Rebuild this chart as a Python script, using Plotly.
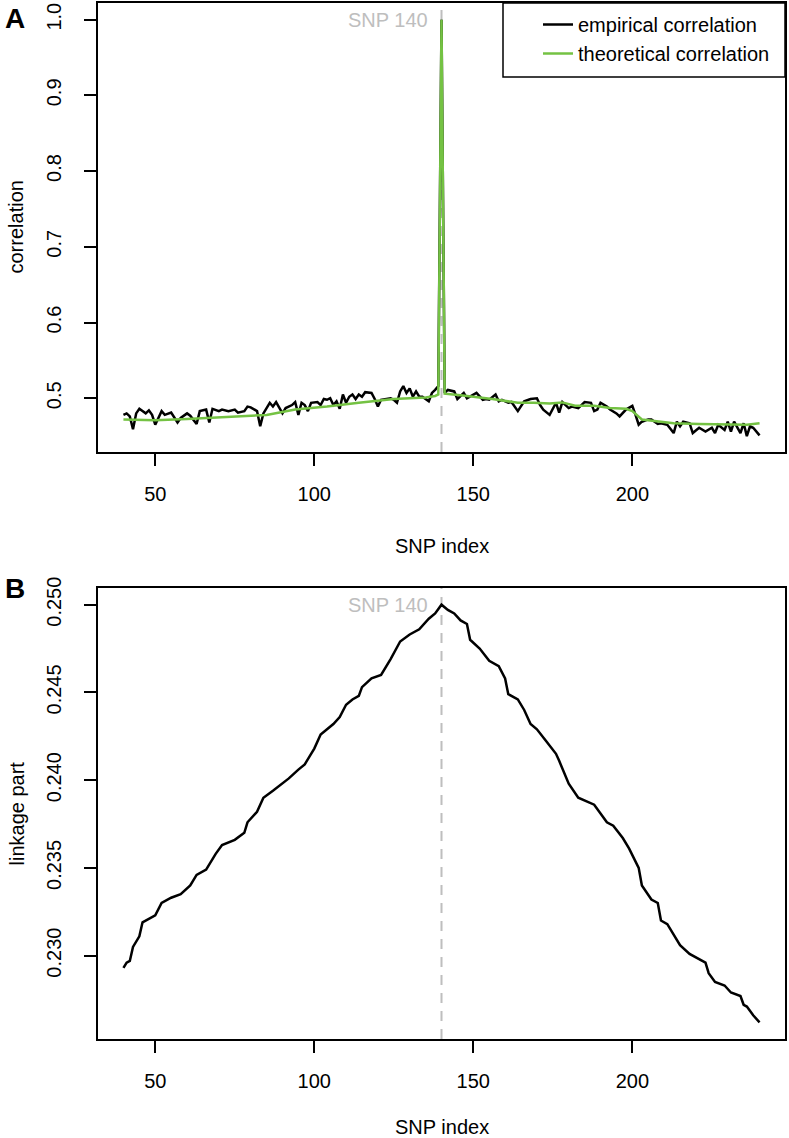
import plotly.graph_objects as go

# ---------------- Panel A data ----------------
emp_idx = [40, 41, 42, 43, 44, 45, 47, 48, 49, 50, 52, 53, 55, 57, 58, 60, 61, 63, 64, 66,
           67, 68, 70, 71, 73, 75, 76, 78, 79, 80, 82, 83, 84, 86, 87, 88, 90, 91, 93, 94,
           95, 96, 97, 98, 99, 101, 102, 103, 104, 105, 106, 107, 108, 109, 110, 111, 112, 113, 114, 115,
           116, 118, 119, 120, 121, 123, 124, 125, 126, 127, 128, 129, 130, 131, 132, 133, 134, 136, 137, 138,
           139, 140, 141, 142, 144, 145, 147, 148, 150, 151, 153, 154, 155, 157, 158, 159, 161, 162, 164, 166,
           168, 170, 171, 172, 174, 176, 177, 178, 180, 181, 183, 185, 187, 188, 189, 190, 192, 193, 195, 196,
           198, 199, 200, 201, 202, 203, 205, 206, 208, 209, 211, 213, 214, 215, 216, 218, 219, 221, 223, 225,
           226, 227, 229, 230, 231, 232, 234, 235, 236, 237, 238, 240]
emp_val = [0.478, 0.480, 0.476, 0.459, 0.480, 0.486, 0.480, 0.484, 0.478, 0.465, 0.483, 0.478, 0.481, 0.468, 0.474, 0.480, 0.477, 0.466, 0.483, 0.485,
           0.468, 0.486, 0.483, 0.485, 0.483, 0.485, 0.481, 0.483, 0.489, 0.488, 0.483, 0.463, 0.480, 0.494, 0.489, 0.495, 0.480, 0.487, 0.491, 0.495,
           0.478, 0.494, 0.491, 0.483, 0.494, 0.495, 0.491, 0.499, 0.498, 0.500, 0.491, 0.496, 0.486, 0.505, 0.494, 0.502, 0.505, 0.499, 0.505, 0.502,
           0.508, 0.507, 0.499, 0.489, 0.498, 0.499, 0.500, 0.498, 0.494, 0.509, 0.516, 0.507, 0.513, 0.502, 0.509, 0.502, 0.502, 0.496, 0.507, 0.511,
           0.516, 1.000, 0.507, 0.511, 0.509, 0.499, 0.507, 0.500, 0.505, 0.507, 0.498, 0.499, 0.498, 0.505, 0.496, 0.498, 0.494, 0.495, 0.483, 0.496,
           0.499, 0.500, 0.491, 0.485, 0.478, 0.494, 0.481, 0.495, 0.487, 0.489, 0.487, 0.495, 0.494, 0.483, 0.485, 0.494, 0.489, 0.485, 0.480, 0.476,
           0.485, 0.487, 0.490, 0.478, 0.465, 0.469, 0.472, 0.472, 0.466, 0.467, 0.465, 0.454, 0.469, 0.463, 0.469, 0.467, 0.454, 0.461, 0.456, 0.461,
           0.454, 0.465, 0.458, 0.469, 0.456, 0.469, 0.454, 0.467, 0.450, 0.463, 0.461, 0.451]

theo_idx = [40, 50, 60, 66, 75, 85, 94, 104, 114, 125, 135, 138, 139, 140, 141, 146, 156, 164, 169, 174,
            178, 182, 188, 193, 198, 200, 203, 208, 213, 221, 230, 236, 240]
theo_val = [0.472, 0.471, 0.4725, 0.474, 0.476, 0.478, 0.485, 0.489, 0.494, 0.499, 0.501, 0.503, 0.505, 1.000, 0.506, 0.504, 0.499, 0.494, 0.494, 0.493,
            0.4945, 0.490, 0.490, 0.487, 0.486, 0.483, 0.472, 0.4695, 0.467, 0.466, 0.465, 0.465, 0.467]

# ---------------- Panel B data ----------------
link_idx = [40, 41, 42, 43, 45, 46, 50, 52, 55, 58, 61, 63, 66, 69, 71, 75, 78, 79, 82, 84,
            87, 90, 92, 95, 97, 99, 100, 102, 106, 108, 110, 112, 114, 115, 118, 121, 124, 127, 130, 133,
            136, 138, 140, 142, 144, 146, 148, 149, 152, 155, 158, 160, 161, 164, 166, 168, 170, 173, 176, 177,
            179, 180, 183, 188, 190, 192, 194, 197, 199, 202, 203, 206, 208, 209, 211, 213, 215, 218, 221, 223,
            224, 226, 229, 231, 234, 235, 236, 238, 240]
link_val = [0.2293, 0.2296, 0.2297, 0.2305, 0.2311, 0.2319, 0.2323, 0.2330, 0.2333, 0.2335, 0.2340, 0.2346, 0.2349, 0.2358, 0.2363, 0.2366, 0.2370, 0.2376, 0.2382, 0.2390,
            0.2394, 0.2398, 0.2401, 0.2406, 0.2409, 0.2415, 0.2418, 0.2426, 0.2432, 0.2436, 0.2443, 0.2446, 0.2448, 0.2453, 0.2458, 0.2460, 0.2469, 0.2479, 0.2483, 0.2486,
            0.2492, 0.2495, 0.2500, 0.2497, 0.2495, 0.2491, 0.2489, 0.2480, 0.2475, 0.2468, 0.2465, 0.2458, 0.2449, 0.2446, 0.2440, 0.2432, 0.2429, 0.2422, 0.2415, 0.2411,
            0.2402, 0.2398, 0.2390, 0.2386, 0.2381, 0.2376, 0.2374, 0.2367, 0.2361, 0.2350, 0.2340, 0.2332, 0.2330, 0.2320, 0.2318, 0.2312, 0.2306, 0.2301, 0.2298, 0.2296,
            0.2290, 0.2285, 0.2283, 0.2279, 0.2277, 0.2272, 0.2271, 0.2266, 0.2262]

x_ticks = [50, 100, 150, 200]
yA_ticks = [0.5, 0.6, 0.7, 0.8, 0.9, 1.0]
yB_ticks = [0.230, 0.235, 0.240, 0.245, 0.250]
snp_mark = 140

FONT = "Liberation Sans, Arial, Helvetica, sans-serif"
GREEN = "#74C243"
GRAY = "#BEBEBE"

fig = go.Figure()
fig.add_trace(go.Scatter(x=emp_idx, y=emp_val, mode="lines", name="empirical correlation",
                         line=dict(color="black", width=2.5), xaxis="x", yaxis="y"))
fig.add_trace(go.Scatter(x=theo_idx, y=theo_val, mode="lines", name="theoretical correlation",
                         line=dict(color=GREEN, width=2.5), xaxis="x", yaxis="y"))
fig.add_trace(go.Scatter(x=link_idx, y=link_val, mode="lines", name="linkage part", showlegend=False,
                         line=dict(color="black", width=2.5), xaxis="x2", yaxis="y2"))

W, H = 789, 1138
L, R, T, B = 98, 4, 3, 99
plot_w = W - L - R
plot_h = H - T - B
domA = [1 - (452 - T) / plot_h, 1.0]
domB = [0.0, 1 - (588 - T) / plot_h]

axis_common = dict(showline=True, mirror=True, linecolor="black", linewidth=2,
                   ticks="outside", ticklen=12, tickwidth=2, tickcolor="black",
                   showgrid=False, zeroline=False, automargin=False,
                   tickfont=dict(family=FONT, size=20, color="black"))

fig.update_layout(
    width=W, height=H,
    margin=dict(l=L, r=R, t=T, b=B),
    plot_bgcolor="white", paper_bgcolor="white",
    font=dict(family=FONT, size=20, color="black"),
    xaxis=dict(domain=[0, 1], anchor="y", range=[32, 248], tickvals=x_ticks,
               ticklabelstandoff=11, **axis_common),
    yaxis=dict(domain=domA, anchor="x", range=[0.429, 1.022], tickvals=yA_ticks,
               tickformat=".1f", tickangle=-90, ticklabelstandoff=15, **axis_common),
    xaxis2=dict(domain=[0, 1], anchor="y2", range=[32, 248], tickvals=x_ticks,
                ticklabelstandoff=11, **axis_common),
    yaxis2=dict(domain=domB, anchor="x2", range=[0.22525, 0.25095], tickvals=yB_ticks,
                tickformat=".3f", tickangle=-90, ticklabelstandoff=15, **axis_common),
    legend=dict(x=(538 - L) / plot_w, y=1 - 2 / plot_h, xanchor="left", yanchor="top",
                xref="paper", yref="paper", borderwidth=0, bgcolor="rgba(0,0,0,0)",
                font=dict(family=FONT, size=20, color="black"), tracegroupgap=0),
    showlegend=True,
)

# legend frame
fig.add_shape(type="rect", xref="paper", yref="paper",
              x0=(503 - L) / plot_w, x1=1.0, y0=1 - (77 - T) / plot_h, y1=1.0,
              line=dict(color="black", width=1.5), fillcolor="white", layer="below")

# dashed reference lines at SNP 140
for xr, yr in (("x", "y domain"), ("x2", "y2 domain")):
    fig.add_shape(type="line", xref=xr, yref=yr, x0=snp_mark, x1=snp_mark, y0=0, y1=1,
                  line=dict(color=GRAY, width=2, dash="10px,8px"), layer="below")

# SNP 140 labels
fig.add_annotation(x=snp_mark, y=1.0, xref="x", yref="y", text="SNP 140", showarrow=False,
                   xanchor="right", yanchor="middle", xshift=-12, font=dict(color=GRAY, size=20, family=FONT))
fig.add_annotation(x=snp_mark, y=0.250, xref="x2", yref="y2", text="SNP 140", showarrow=False,
                   xanchor="right", yanchor="middle", xshift=-12, font=dict(color=GRAY, size=20, family=FONT))

# axis titles
for dom, ytitle, gap in ((domA, "correlation", 94), (domB, "linkage part", 88)):
    fig.add_annotation(x=0.5, y=dom[0], xref="paper", yref="paper", text="SNP index", showarrow=False,
                       xanchor="center", yanchor="middle", yshift=-gap, font=dict(size=20, family=FONT))
    fig.add_annotation(x=0, y=(dom[0] + dom[1]) / 2, xref="paper", yref="paper", text=ytitle,
                       showarrow=False, textangle=-90, xanchor="center", yanchor="middle", xshift=-82,
                       font=dict(size=20, family=FONT))

# panel letters
fig.add_annotation(x=0, y=domA[1], xref="paper", yref="paper", text="<b>A</b>", showarrow=False,
                   xanchor="center", yanchor="middle", xshift=-83, yshift=-15, font=dict(size=28, family=FONT))
fig.add_annotation(x=0, y=domB[1], xref="paper", yref="paper", text="<b>B</b>", showarrow=False,
                   xanchor="center", yanchor="middle", xshift=-83, yshift=0, font=dict(size=28, family=FONT))

fig.write_html("out.html", config={"displayModeBar": False},
               post_script="document.body.style.margin='0';document.body.style.overflow='hidden';")
